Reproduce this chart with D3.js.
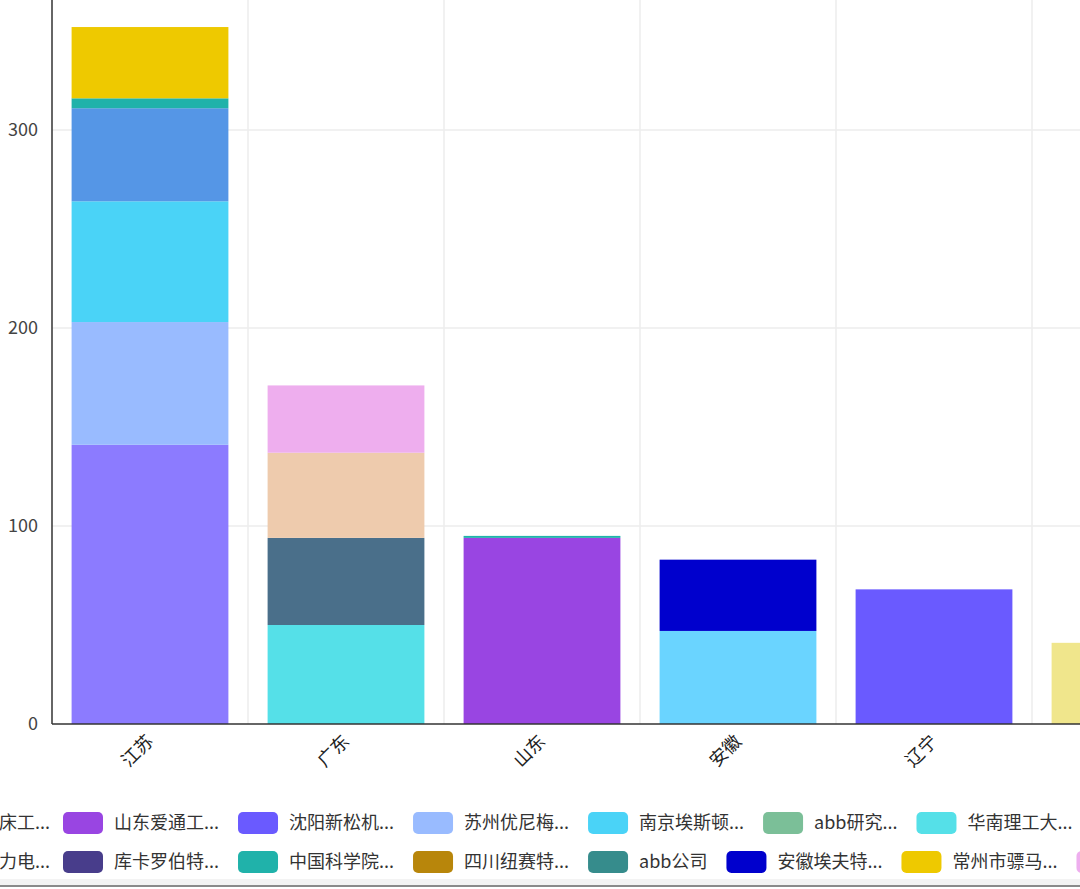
<!DOCTYPE html>
<html>
<head>
<meta charset="utf-8">
<script src="https://cdn.jsdelivr.net/npm/d3@7/dist/d3.min.js"></script>
<style>
  html, body { margin: 0; padding: 0; background: #fff; overflow: hidden; }
  svg { display: block; font-family: "Noto Sans CJK SC", "Noto Sans", sans-serif; }
</style>
</head>
<body>
<svg id="chart" width="1080" height="889"></svg>
<script>
// ---------- data ----------
const categories = ["江苏", "广东", "山东", "安徽", "辽宁", "上海"];
const yTicks = [0, 100, 200, 300, 400];

// series in stacking order; values per category (same order as categories)
const seriesNames = [
  "床工...", "山东爱通工...", "沈阳新松机...", "苏州优尼梅...", "南京埃斯顿...",
  "abb研究...", "华南理工大...", "s_4a6f8a", "s_eecbad", "s_6ad4ff", "s_f0e68c",
  "力电...", "库卡罗伯特...", "中国科学院...", "四川纽赛特...", "abb公司",
  "安徽埃夫特...", "常州市骠马...", "s_eeaeee"
];
const seriesColors = [
  "#8c7bff", "#9945e2", "#6a5aff", "#99bbff", "#4ad3f7",
  "#7bbf98", "#55e0e8", "#4a6f8a", "#eecbad", "#6ad4ff", "#f0e68c",
  "#5596e6", "#483d8b", "#20b2aa", "#b8860b", "#368c8c",
  "#0000cd", "#eec900", "#eeaeee"
];
const seriesValues = [
  [141, 0, 0, 0, 0, 0],   // 床工...
  [0, 0, 94, 0, 0, 0],    // 山东爱通工...
  [0, 0, 0, 0, 68, 0],    // 沈阳新松机...
  [62, 0, 0, 0, 0, 0],    // 苏州优尼梅...
  [61, 0, 0, 0, 0, 0],    // 南京埃斯顿...
  [0, 0, 0, 0, 0, 0],     // abb研究...
  [0, 50, 0, 0, 0, 0],    // 华南理工大...
  [0, 44, 0, 0, 0, 0],
  [0, 43, 0, 0, 0, 0],
  [0, 0, 0, 47, 0, 0],
  [0, 0, 0, 0, 0, 41],
  [47, 0, 0, 0, 0, 0],    // 力电...
  [0, 0, 0, 0, 0, 0],     // 库卡罗伯特...
  [5, 0, 1, 0, 0, 0],     // 中国科学院...
  [0, 0, 0, 0, 0, 0],     // 四川纽赛特...
  [0, 0, 0, 0, 0, 0],     // abb公司
  [0, 0, 0, 36, 0, 0],    // 安徽埃夫特...
  [36, 0, 0, 0, 0, 0],    // 常州市骠马...
  [0, 34, 0, 0, 0, 0]
];
// legend rows (indices into series); the partial items at the left edge are cut
const legendRow1 = [0, 1, 2, 3, 4, 5, 6];
const legendRow2 = [11, 12, 13, 14, 15, 16, 17, 18];

// ---------- layout ----------
const svg = d3.select("#chart");
const W = 1080;
const axisX = 52, axisY = 724;
const step = 196;

const x = d3.scaleBand()
  .domain(categories)
  .range([axisX, axisX + step * categories.length])
  .paddingInner(0.2).paddingOuter(0.1);
const y = d3.scaleLinear().domain([0, 400]).range([axisY, axisY - 400 * 1.98]);

// stack
const rows = categories.map((c, ci) => {
  const o = { cat: c };
  seriesNames.forEach((n, si) => o[n] = seriesValues[si][ci]);
  return o;
});
const stacked = d3.stack().keys(seriesNames)(rows);

// grid
const gGrid = svg.append("g");
gGrid.selectAll("line.h").data(yTicks.filter(t => t > 0)).join("line")
  .attr("x1", axisX).attr("x2", W)
  .attr("y1", d => y(d)).attr("y2", d => y(d))
  .attr("stroke", "#ececec").attr("stroke-width", 1.5);
gGrid.selectAll("line.v").data(categories.slice(1)).join("line")
  .attr("x1", d => x(d) - x.step() * 0.1).attr("x2", d => x(d) - x.step() * 0.1)
  .attr("y1", 0).attr("y2", axisY)
  .attr("stroke", "#ececec").attr("stroke-width", 1.5);

// bars
svg.append("g").selectAll("g").data(stacked).join("g")
  .attr("fill", (d, i) => seriesColors[i])
  .selectAll("rect").data(d => d.filter(p => p[1] - p[0] > 0)).join("rect")
  .attr("x", d => x(d.data.cat))
  .attr("width", x.bandwidth())
  .attr("y", d => y(d[1]))
  .attr("height", d => y(d[0]) - y(d[1]));

// axes
svg.append("line").attr("x1", axisX).attr("x2", axisX).attr("y1", 0).attr("y2", axisY)
  .attr("stroke", "#333").attr("stroke-width", 1.5);
svg.append("line").attr("x1", axisX).attr("x2", W).attr("y1", axisY).attr("y2", axisY)
  .attr("stroke", "#333").attr("stroke-width", 1.5);

// y labels (only those inside the visible area)
svg.append("g").selectAll("text").data(yTicks.filter(t => y(t) > 10)).join("text")
  .attr("x", 38).attr("y", d => y(d)).attr("dy", "0.35em")
  .attr("text-anchor", "end").attr("font-size", 18).attr("fill", "#444")
  .text(d => d);

// x labels (only those whose tick lies inside the visible area)
svg.append("g").selectAll("text").data(categories.filter(c => x(c) + x.bandwidth() / 2 < W)).join("text")
  .attr("transform", d => `translate(${x(d) + x.bandwidth() / 2},${axisY + 14}) rotate(-45)`)
  .attr("text-anchor", "end").attr("dy", "0.35em")
  .attr("font-size", 18).attr("fill", "#222")
  .text(d => d);

// legend
function drawLegendRow(items, cy, cutCount) {
  const g = svg.append("g");
  let cx = 63;
  const cut = items.slice(0, cutCount), full = items.slice(cutCount);
  cut.forEach(si => {
    g.append("text").attr("x", cx - 13).attr("y", cy).attr("dy", "0.35em")
      .attr("text-anchor", "end").attr("font-size", 18).attr("fill", "#333")
      .text(seriesNames[si]);
  });
  full.forEach(si => {
    g.append("rect").attr("x", cx).attr("y", cy - 11).attr("width", 40).attr("height", 22)
      .attr("rx", 5).attr("fill", seriesColors[si]);
    if (seriesNames[si].startsWith("s_")) { cx += 200; return; }
    const t = g.append("text").attr("x", cx + 51).attr("y", cy).attr("dy", "0.35em")
      .attr("font-size", 18).attr("fill", "#333").text(seriesNames[si]);
    cx = cx + 51 + t.node().getComputedTextLength() + 19;
  });
}
drawLegendRow(legendRow1, 823, 1);
drawLegendRow(legendRow2, 862, 1);

// bottom frame
svg.append("rect").attr("x", 0).attr("y", 879).attr("width", W).attr("height", 6).attr("fill", "#f3f3f3");
svg.append("line").attr("x1", 0).attr("x2", W).attr("y1", 886).attr("y2", 886)
  .attr("stroke", "#8a8a8a").attr("stroke-width", 2);
</script>
</body>
</html>
